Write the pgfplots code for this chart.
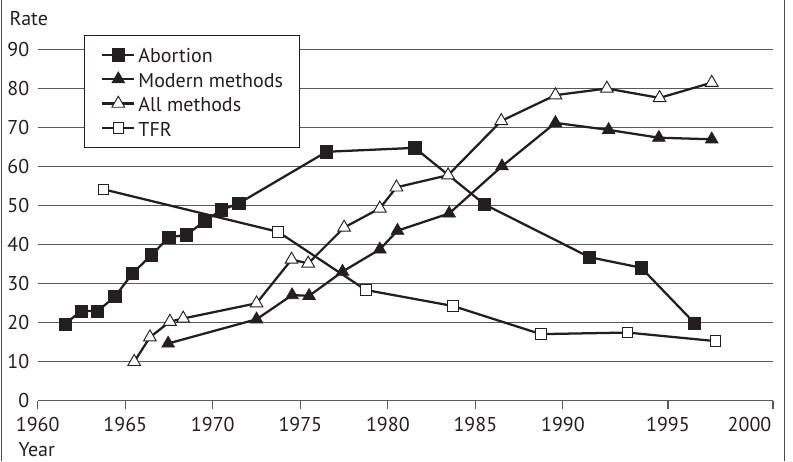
\documentclass[border=0pt]{standalone}
\usepackage{pgfplots}
\pgfplotsset{compat=1.18}
\usepackage{fontspec}
\setmainfont{PT Sans}
\definecolor{ink}{HTML}{231F20}
\definecolor{framegray}{HTML}{4A4A4A}
\begin{document}
\begin{tikzpicture}
\path[use as bounding box] (-28.3pt,-45.4pt) rectangle (566.5pt,300.4pt);
\begin{axis}[
  at={(0,0)}, anchor=south west, scale only axis,
  width=551.5pt, height=263.6pt,
  xmin=1960, xmax=2002, ymin=0, ymax=90,
  axis x line*=bottom, axis y line*=left,
  y axis line style={draw=none},
  x axis line style={black!65, line width=0.8pt},
  xtick={1960,1965,1970,1975,1980,1990,1996},
  xticklabels={1960,1965,1970,1975,1980,1990,1995},
  extra x ticks={1985,2002},
  extra x tick labels={\raisebox{-1.5pt}{1985},\makebox[0pt][r]{2000}\hspace*{2.5pt}},
  extra x tick style={xticklabel style={anchor=north}, tick style={black!65, line width=0.8pt}},
  ytick={0,10,...,90},
  tick align=outside,
  major tick length=6pt,
  xtick style={black!65, line width=0.8pt},
  ytick style={draw=none},
  ymajorgrids, grid style={black!65, line width=0.8pt},
  /pgf/number format/assume math mode=true,
  tick label style={font=\fontsize{15}{17}\selectfont, text=ink},
  xticklabel style={inner sep=0pt, yshift=-6.5pt},
  yticklabel style={inner sep=0pt, xshift=-0.2pt},
  clip=false,
  legend cell align=left,
  legend image code/.code={\draw[mark repeat=2,mark phase=2,#1] plot coordinates {(0pt,0pt) (12pt,0pt) (24pt,0pt)};},
  legend style={at={(0.0629,1.0398)}, anchor=north west, draw=ink, line width=0.8pt, fill=white,
    font=\fontsize{15}{17}\selectfont, text=ink,
    inner xsep=12.5pt, inner ysep=6pt, row sep=1.6pt,
    nodes={inner sep=0pt, text height=14.5pt, text depth=2.2pt},
    /tikz/every odd column/.append style={column sep=2.25pt}},
]
\addplot[ink, line width=1.7pt, mark=square*, mark size=4.6pt, mark options={fill=ink, draw=ink, line width=0.5pt, solid}] coordinates {
(1961.56,19.6) (1962.47,22.9) (1963.42,22.9) (1964.41,26.6) (1965.42,32.6) (1966.51,37.3) (1967.49,41.8) (1968.50,42.4) (1969.55,46.0) (1970.50,48.8) (1971.49,50.5) (1976.50,63.7) (1981.54,64.7) (1985.53,50.2) (1991.52,36.7) (1994.47,34.0) (1997.52,19.8)};
\addlegendentry{Abortion}
\addplot[ink, line width=1.7pt, mark=triangle*, mark size=5.5pt, mark options={fill=ink, draw=ink, line width=0.5pt, solid}] coordinates {
(1967.45,14.6) (1972.50,20.8) (1974.53,27.0) (1975.50,26.8) (1977.41,33.0) (1979.54,38.7) (1980.55,43.5) (1983.50,47.9) (1986.52,60.0) (1989.57,71.1) (1992.61,69.3) (1995.48,67.3) (1998.50,66.9)};
\addlegendentry{Modern methods}
\addplot[ink, line width=1.7pt, mark=triangle*, mark size=5.5pt, mark options={fill=white, draw=ink, line width=0.7pt, solid}] coordinates {
(1965.51,9.9) (1966.41,16.2) (1967.55,20.2) (1968.31,21.0) (1972.50,24.9) (1974.50,36.1) (1975.45,35.1) (1977.50,44.3) (1979.54,49.2) (1980.49,54.6) (1983.44,57.7) (1986.48,71.6) (1989.57,78.2) (1992.51,79.9) (1995.52,77.5) (1998.50,81.4)};
\addlegendentry{All methods}
\addplot[ink, line width=1.7pt, mark=square*, mark size=3.9pt, mark options={fill=white, draw=ink, line width=0.7pt, solid}] coordinates {
(1963.74,54.1) (1973.73,43.2) (1978.74,28.3) (1983.72,24.2) (1988.74,17.0) (1993.69,17.4) (1998.73,15.2)};
\addlegendentry{TFR}
\draw[framegray, line width=1.3pt] (rel axis cs:-0.0492,-0.172) -- (rel axis cs:-0.0492,1.1395);
\draw[framegray, line width=1.3pt] (rel axis cs:1.0156,-0.172) -- (rel axis cs:1.0156,1.1395);
\end{axis}
\node[anchor=base west, inner sep=0pt, font=\fontsize{15}{17}\selectfont, text=ink] at (-21.3pt,280.9pt) {Rate};
\node[anchor=base west, inner sep=0pt, font=\fontsize{15}{17}\selectfont, text=ink] at (-14.6pt,-42.2pt) {Year};
\end{tikzpicture}
\end{document}
